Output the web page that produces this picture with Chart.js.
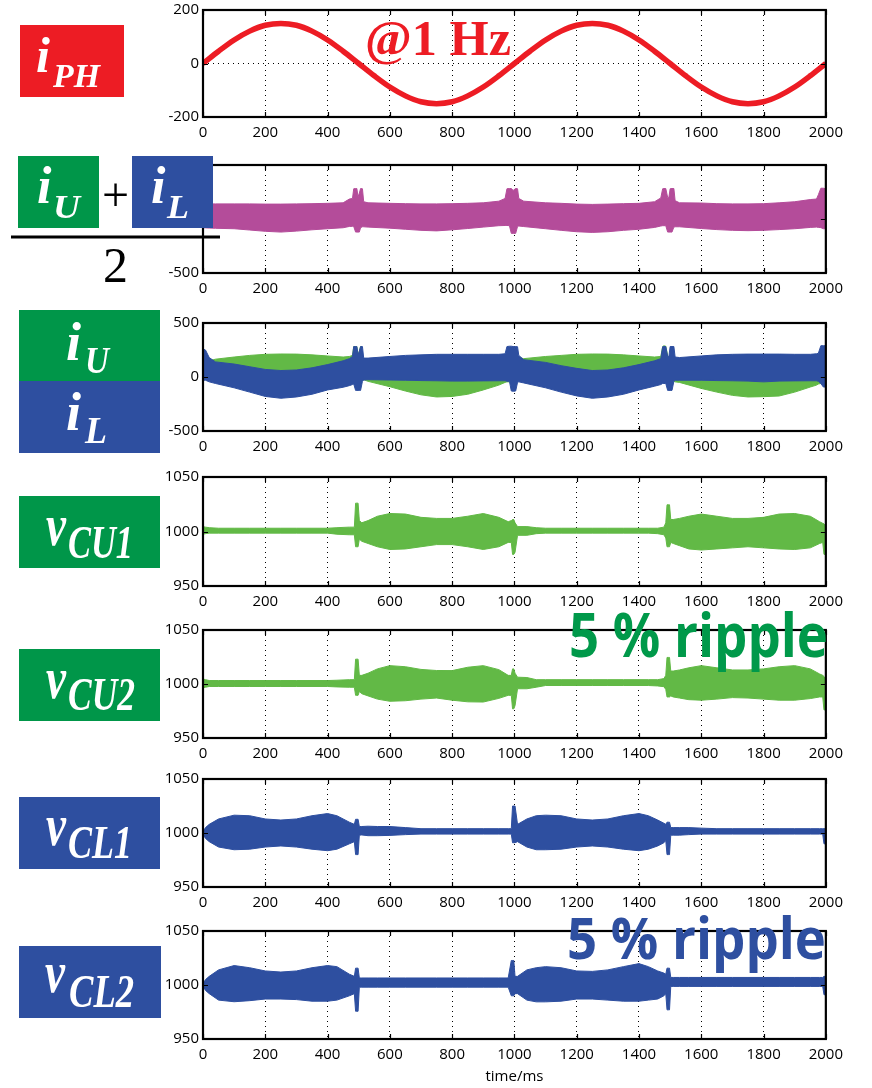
<!DOCTYPE html>
<html>
<head>
<meta charset="utf-8">
<script src="https://cdn.jsdelivr.net/npm/chart.js@4.4.1/dist/chart.umd.min.js"></script>
<style>
  html, body { margin: 0; padding: 0; background: #fff; }
  body { width: 872px; height: 1088px; position: relative; overflow: hidden; }
  canvas.panel { position: absolute; left: 150px; z-index: 1; }
  #labels { position: absolute; left: 0; top: 0; z-index: 2; pointer-events: none; }
  .sym { font-family: "Liberation Serif", "Times New Roman", serif; font-style: italic; font-weight: bold; fill: #fff; }
  .sub { font-family: "Liberation Serif", "Times New Roman", serif; font-style: italic; font-weight: bold; fill: #fff; }
  .ripple { font-family: "Open Sans", sans-serif; font-weight: bold; }
</style>
</head>
<body>

<canvas class="panel" id="p0"></canvas>
<canvas class="panel" id="p1"></canvas>
<canvas class="panel" id="p2"></canvas>
<canvas class="panel" id="p3"></canvas>
<canvas class="panel" id="p4"></canvas>
<canvas class="panel" id="p5"></canvas>
<canvas class="panel" id="p6"></canvas>

<svg id="labels" width="872" height="1088" xmlns="http://www.w3.org/2000/svg">
  <!-- i_PH -->
  <rect x="20" y="25" width="104" height="72" fill="#ed1c24"/>
  <text class="sym" x="36" y="72" font-size="50">i</text>
  <text class="sub" x="53" y="87" font-size="33" textLength="47" lengthAdjust="spacingAndGlyphs">PH</text>

  <!-- (i_U + i_L) / 2 -->
  <rect x="18" y="156" width="81" height="72" fill="#009649"/>
  <text class="sym" x="37" y="203" font-size="52">i</text>
  <text class="sub" x="53" y="218" font-size="34" textLength="27" lengthAdjust="spacingAndGlyphs">U</text>
  <text x="115.5" y="211" font-size="48" text-anchor="middle" font-family="Liberation Serif, serif" fill="#000">+</text>
  <rect x="132" y="156" width="81" height="72" fill="#2e4fa0"/>
  <text class="sym" x="151" y="203" font-size="52">i</text>
  <text class="sub" x="167" y="218" font-size="34" textLength="22" lengthAdjust="spacingAndGlyphs">L</text>
  <rect x="11" y="235.5" width="209" height="3" fill="#000"/>
  <text x="115.5" y="282" font-size="50" text-anchor="middle" font-family="Liberation Serif, serif" fill="#000">2</text>

  <!-- i_U / i_L -->
  <rect x="19" y="310" width="141" height="71" fill="#009649"/>
  <rect x="19" y="381" width="141" height="72" fill="#2e4fa0"/>
  <text class="sym" x="66" y="360" font-size="54">i</text>
  <text class="sub" x="85" y="373" font-size="38" textLength="24" lengthAdjust="spacingAndGlyphs">U</text>
  <text class="sym" x="66" y="430" font-size="54">i</text>
  <text class="sub" x="85" y="443" font-size="38" textLength="22" lengthAdjust="spacingAndGlyphs">L</text>

  <!-- capacitor voltages -->
  <rect x="19" y="496" width="141" height="72" fill="#009649"/>
  <text class="sym" x="46" y="545" font-size="60" textLength="20" lengthAdjust="spacingAndGlyphs">v</text>
  <text class="sub" x="68" y="558" font-size="46" textLength="65" lengthAdjust="spacingAndGlyphs">CU1</text>

  <rect x="19" y="649" width="141" height="72" fill="#009649"/>
  <text class="sym" x="46" y="698" font-size="60" textLength="20" lengthAdjust="spacingAndGlyphs">v</text>
  <text class="sub" x="68" y="710" font-size="46" textLength="67" lengthAdjust="spacingAndGlyphs">CU2</text>

  <rect x="19" y="797" width="141" height="72" fill="#2e4fa0"/>
  <text class="sym" x="46" y="845" font-size="60" textLength="20" lengthAdjust="spacingAndGlyphs">v</text>
  <text class="sub" x="68" y="858" font-size="46" textLength="64" lengthAdjust="spacingAndGlyphs">CL1</text>

  <rect x="19" y="946" width="142" height="72" fill="#2e4fa0"/>
  <text class="sym" x="45" y="992" font-size="60" textLength="20" lengthAdjust="spacingAndGlyphs">v</text>
  <text class="sub" x="69" y="1007" font-size="46" textLength="65" lengthAdjust="spacingAndGlyphs">CL2</text>

  <!-- annotations -->
  <text x="365" y="55" font-size="50" font-weight="bold" font-family="Liberation Serif, serif" fill="#ed1c24" textLength="146" lengthAdjust="spacingAndGlyphs">@1 Hz</text>
  <text class="ripple" x="569" y="657" font-size="60" fill="#00994a" textLength="259" lengthAdjust="spacingAndGlyphs">5 % ripple</text>
  <text class="ripple" x="567" y="959" font-size="58" fill="#2e4fa0" textLength="259" lengthAdjust="spacingAndGlyphs">5 % ripple</text>
</svg>

<script>
// ---------- phase current i_PH (A), sampled every 50 ms ----------
const tPhase = [0, 50, 100, 150, 200, 250, 300, 350, 400, 450, 500, 550, 600, 650, 700, 750, 800, 850, 900, 950,
                1000, 1050, 1100, 1150, 1200, 1250, 1300, 1350, 1400, 1450, 1500, 1550, 1600, 1650, 1700, 1750,
                1800, 1850, 1900, 1950, 2000];
const iPH = [0, 46, 88, 121, 143, 150, 143, 121, 88, 46, 0, -46, -88, -121, -143, -150, -143, -121, -88, -46,
             0, 46, 88, 121, 143, 150, 143, 121, 88, 46, 0, -46, -88, -121, -143, -150, -143, -121, -88, -46, 0];

// ---------- arm currents (A): envelope of the switching ripple ----------
const tArm = [
  0, 8, 20, 40, 100, 150, 200, 250, 300, 350, 400, 450,
  470, 480, 484, 490, 494, 498, 502, 506, 512, 516, 530,
  600, 650, 700, 750, 800, 850, 900, 950,
  970, 976, 984, 990, 996, 1004, 1010, 1014, 1030,
  1100, 1150, 1200, 1250, 1300, 1350, 1400, 1450,
  1470, 1476, 1480, 1486, 1492, 1496, 1500, 1506, 1512, 1516, 1530,
  1600, 1650, 1700, 1750, 1800, 1850, 1900, 1950,
  1970, 1976, 1984, 1992, 2000
];
// (i_U + i_L) / 2
const iAvgMax = [
  145, 140, 140, 140, 140, 140, 138, 138, 140, 142, 145, 150,
  185, 190, 280, 282, 282, 205, 240, 282, 280, 160, 150,
  145, 142, 140, 140, 142, 145, 150, 165,
  190, 280, 282, 282, 265, 282, 280, 190, 165,
  150, 145, 138, 135, 138, 142, 145, 160,
  195, 280, 282, 282, 200, 200, 280, 282, 282, 170, 150,
  148, 142, 140, 140, 142, 150, 160, 180,
  185, 225, 285, 285, 280
];
const iAvgMin = [
  -81, -82, -84, -86, -90, -102, -114, -121, -112, -100, -90, -81,
  -69, -68, -70, -121, -121, -121, -121, -80, -72, -72, -75,
  -85, -95, -105, -110, -100, -88, -75, -62,
  -60, -60, -62, -133, -133, -133, -70, -65, -70,
  -90, -105, -118, -124, -118, -105, -95, -78,
  -65, -62, -62, -62, -121, -121, -121, -121, -75, -72, -72,
  -88, -98, -105, -108, -105, -98, -90, -78,
  -75, -78, -80, -90, -90
];
// i_L (lower arm)
const iLMax = [
  260, 250, 180, 140, 120, 95, 70, 60, 65, 85, 115, 150,
  170, 190, 282, 282, 282, 205, 240, 282, 282, 175, 175,
  190, 200, 205, 210, 210, 210, 210, 210,
  215, 282, 285, 285, 282, 282, 280, 200, 160,
  135, 105, 80, 60, 65, 85, 115, 150,
  170, 280, 282, 282, 190, 190, 282, 282, 282, 185, 180,
  195, 205, 210, 212, 212, 212, 210, 210,
  215, 220, 290, 290, 290
];
const iLMin = [
  -30, -30, -45, -60, -100, -140, -180, -197, -185, -160, -120, -95,
  -80, -70, -65, -124, -124, -124, -124, -124, -40, -28, -25,
  -28, -30, -33, -35, -38, -38, -36, -35,
  -35, -40, -40, -130, -132, -130, -50, -45, -55,
  -100, -140, -175, -197, -185, -160, -120, -85,
  -70, -60, -60, -60, -124, -124, -124, -124, -40, -30, -30,
  -30, -33, -35, -38, -45, -38, -36, -35,
  -35, -40, -60, -93, -93
];
// i_U (upper arm)
const iUMax = [
  100, 120, 150, 165, 185, 200, 210, 213, 212, 205, 195, 185,
  190, 200, 282, 282, 282, 200, 240, 282, 150, 60, 50,
  60, 60, 60, 60, 60, 60, 60, 60,
  100, 200, 200, 200, 200, 200, 190, 180, 170,
  190, 200, 210, 213, 212, 205, 195, 185,
  190, 282, 289, 285, 200, 150, 100, 60, 60, 60, 60,
  60, 60, 60, 60, 60, 60, 60, 60,
  60, 60, 60, 60, 60
];
const iUMin = [
  0, 0, 0, 0, 0, 0, 0, 0, 0, 0, 0, 0,
  0, 0, 0, 0, 0, 0, 0, 0, -30, -25, -40,
  -90, -130, -165, -185, -180, -160, -120, -75,
  -50, -45, -45, -40, -40, -40, 0, 0, 0,
  0, 0, 0, 0, 0, 0, 0, 0,
  0, 0, 0, 0, 0, 0, 0, -30, -40, -45, -50,
  -106, -140, -170, -185, -182, -176, -140, -93,
  -75, -65, -60, -40, -40
];

// ---------- capacitor voltages (V): ripple envelope ----------
const tCap = [
  0, 8, 20, 50, 100, 150, 200, 250, 300, 350, 400, 430, 470,
  486, 490, 494, 498, 502, 510,
  530, 560, 600, 650, 700, 750, 800, 850, 900, 950,
  980, 990, 994, 998, 1002, 1010,
  1040, 1070, 1100, 1150, 1200, 1250, 1300, 1350, 1400, 1430, 1460, 1480,
  1486, 1490, 1494, 1498, 1502, 1510,
  1530, 1560, 1600, 1650, 1700, 1750, 1800, 1850, 1900, 1950,
  1980, 1990, 1994, 1998, 2000
];
const vCU1Max = [
  1004.5, 1004, 1003.5, 1003, 1003, 1003, 1003, 1003, 1003, 1003, 1003, 1003.5, 1004,
  1004, 1026, 1026, 1026, 1010, 1008,
  1010, 1014, 1016.5, 1016, 1013, 1012, 1012, 1014, 1016.5, 1013,
  1009, 1010, 1011, 1011, 1008, 1004.5,
  1004.5, 1003.5, 1003, 1003, 1003, 1003, 1003, 1003, 1003, 1003, 1003, 1004,
  1008, 1024.5, 1024.5, 1024.5, 1011, 1011,
  1012, 1014, 1016, 1014, 1012, 1012, 1013, 1016, 1016.5, 1014,
  1009, 1007.5, 1007, 1005, 1005
];
const vCU1Min = [
  997.5, 998, 998.5, 998.5, 998.5, 998.5, 998.5, 998.5, 998.5, 998.5, 998.5, 997.5, 997,
  997, 986, 986, 986, 993, 991,
  989, 986, 983.5, 984, 986, 988, 988, 986, 983.5, 986,
  990, 990, 979, 979, 981, 996.5,
  996.5, 998, 998.5, 998.5, 998.5, 998.5, 998.5, 998.5, 998.5, 998.5, 998, 997,
  994, 986, 986, 986, 990, 989,
  987, 984, 983, 984, 985, 986, 985, 984, 983.5, 985,
  989, 990, 979, 979, 979
];
const vCU2Max = [
  1004.6, 1004, 1003.2, 1003.2, 1003.2, 1003.2, 1003.2, 1003.2, 1003.2, 1003.2, 1003.2, 1003.5, 1004,
  1004, 1023, 1023, 1023, 1008, 1008,
  1010, 1014, 1017, 1016, 1013.5, 1012.5, 1012.4, 1015.5, 1017, 1013.3,
  1008, 1008, 1014, 1014, 1010, 1006.3,
  1006, 1004, 1004, 1004, 1004, 1004, 1004, 1004, 1004, 1004, 1004, 1005,
  1008, 1024.6, 1024.6, 1024.6, 1012, 1012,
  1013, 1015, 1017, 1015, 1013, 1013, 1014, 1016, 1017, 1014,
  1009.3, 1008, 1007, 1005, 1005
];
const vCU2Min = [
  996.6, 997, 997.7, 997.7, 997.7, 997.7, 997.7, 997.7, 997.7, 997.7, 997.7, 997.3, 997,
  997, 989.5, 989.5, 989.5, 993, 991,
  989, 986, 984, 984.5, 986, 987, 985, 983.5, 983.3, 986.7,
  989.5, 989.5, 977, 977, 980, 995.6,
  995.6, 997, 998.6, 998.6, 998.6, 998.6, 998.6, 998.6, 998.6, 998.6, 998.2, 997.5,
  995, 988, 988, 988, 989, 988,
  987, 985.5, 985, 986, 987.4, 987, 986, 985, 985, 986.5,
  988, 988, 976, 976, 976
];
const vCL1Max = [
  1001, 1005, 1008, 1013, 1016.5, 1016, 1013, 1012, 1013, 1016, 1018, 1016, 1010,
  1008, 1012.7, 1012.7, 1012.7, 1006, 1006,
  1006.3, 1006, 1006, 1005, 1004, 1004, 1004, 1004, 1004, 1004,
  1004, 1004, 1025, 1025, 1025, 1008,
  1013, 1016, 1016.5, 1016, 1013, 1012, 1013, 1016, 1018, 1016, 1012, 1009,
  1008, 1010, 1010, 1010, 1005, 1005,
  1005, 1005, 1004.5, 1004, 1004, 1004, 1004, 1004, 1004, 1004,
  1004, 1004, 1004, 1004, 1004
];
const vCL1Min = [
  999, 995, 992, 987, 984.5, 985, 987, 988, 987, 985, 983.6, 985, 990,
  992, 980, 980, 980, 998, 998.2,
  997.5, 997.5, 997.8, 998.5, 999, 999, 999, 999, 999, 999,
  999, 999, 991, 991, 991, 992,
  987, 984.5, 984.5, 985, 987, 988, 987, 985, 983.6, 985, 988, 991,
  993, 980, 980, 980, 998, 998,
  998, 998.5, 999, 999, 999, 999, 999, 999, 999, 999,
  999, 999, 990, 990, 990
];
const vCL2Max = [
  1001, 1005, 1008, 1014, 1018, 1016, 1013, 1012, 1013, 1016, 1018, 1017, 1010,
  1008, 1015.6, 1015.6, 1015.6, 1006.5, 1006.5,
  1006.5, 1006.5, 1006.5, 1006.5, 1006.5, 1006.5, 1006.5, 1006.5, 1006.5, 1006.5,
  1006.5, 1022.7, 1022.7, 1022.7, 1008, 1008,
  1014, 1016, 1017, 1016, 1013, 1012.6, 1014, 1017, 1019.8, 1017, 1013, 1011,
  1010, 1015.6, 1015.6, 1015.6, 1007, 1007,
  1007, 1007, 1007, 1007, 1007, 1007, 1007, 1007, 1007, 1007,
  1007, 1007, 1008, 1008, 1008
];
const vCL2Min = [
  999, 995, 992, 986, 984.5, 985.5, 987, 987, 986.5, 985, 985, 986, 990,
  992, 975.7, 975.7, 975.7, 998, 998,
  998, 998, 998, 998, 998, 998, 998, 998, 998, 998,
  998, 990, 990, 990, 992, 992,
  986, 984.4, 984.4, 985, 987, 987, 986, 985, 985, 986, 987, 990,
  992, 977, 977, 977, 998.7, 998.7,
  998.7, 998.7, 998.7, 998.7, 998.7, 998.7, 998.7, 998.7, 998.7, 998.7,
  998.7, 998.7, 991, 991, 991
];

// axis tick values
const xTicks = [0, 200, 400, 600, 800, 1000, 1200, 1400, 1600, 1800, 2000];
const yTicksPhase = [-200, 0, 200];
const yTicksArm = [-500, 0, 500];
const yTicksCap = [950, 1000, 1050];

// colours
const RED = '#ed1c24', MAGENTA = '#b44c9a', LGREEN = '#62b946', BLUE = '#2e4fa0';

const pts = (t, v) => t.map((x, i) => ({ x, y: v[i] }));

function band(t, hi, lo, color) {
  const common = { borderColor: color, backgroundColor: color, borderWidth: 1, pointRadius: 0, tension: 0 };
  return [
    Object.assign({ data: pts(t, hi), fill: false }, common),
    Object.assign({ data: pts(t, lo), fill: '-1' }, common)
  ];
}

// frame box with inward tick marks
const framePlugin = {
  id: 'frame',
  afterDatasetsDraw(chart) {
    const { ctx, chartArea: a, scales: { x, y } } = chart;
    ctx.save();
    ctx.strokeStyle = '#000';
    ctx.lineWidth = 1.2;
    ctx.beginPath();
    x.ticks.forEach(t => {
      const px = Math.round(x.getPixelForValue(t.value)) + 0.5;
      ctx.moveTo(px, a.top); ctx.lineTo(px, a.top + 5);
      ctx.moveTo(px, a.bottom); ctx.lineTo(px, a.bottom - 5);
    });
    y.ticks.forEach(t => {
      const py = Math.round(y.getPixelForValue(t.value)) + 0.5;
      ctx.moveTo(a.left, py); ctx.lineTo(a.left + 5, py);
      ctx.moveTo(a.right, py); ctx.lineTo(a.right - 5, py);
    });
    ctx.stroke();
    ctx.lineWidth = 2.2;
    ctx.strokeRect(a.left, a.top, a.right - a.left, a.bottom - a.top);
    ctx.restore();
  }
};

const tickFont = { family: 'Open Sans', size: 15 };

function makePanel(id, top, h, yTicks, datasets, withTitle) {
  const padTop = 12;
  const axisH = withTitle ? 50 : 30;
  const cv = document.getElementById(id);
  cv.width = 700;
  cv.height = padTop + h + axisH;
  cv.style.top = (top - padTop) + 'px';
  new Chart(cv, {
    type: 'line',
    data: { datasets },
    options: {
      responsive: false,
      animation: false,
      events: [],
      layout: { padding: { left: 0, right: 16, top: padTop, bottom: 0 } },
      plugins: { legend: { display: false }, tooltip: { enabled: false } },
      scales: {
        x: {
          type: 'linear', min: 0, max: 2000,
          afterBuildTicks: s => { s.ticks = xTicks.map(v => ({ value: v })); },
          afterFit: s => { s.height = axisH; },
          ticks: { font: tickFont, color: '#000', padding: 7, maxRotation: 0, callback: v => String(v) },
          grid: { color: '#000', lineWidth: 1, drawTicks: false },
          border: { display: false, dash: [1, 4] },
          title: withTitle ? { display: true, text: 'time/ms', color: '#000',
                               font: { family: 'Open Sans', size: 15 }, padding: { top: 2, bottom: 3 } }
                           : { display: false }
        },
        y: {
          type: 'linear', min: yTicks[0], max: yTicks[yTicks.length - 1],
          afterBuildTicks: s => { s.ticks = yTicks.map(v => ({ value: v })); },
          afterFit: s => { s.width = 53; },
          ticks: { font: tickFont, color: '#000', padding: 4, callback: v => String(v) },
          grid: { color: '#000', lineWidth: 1, drawTicks: false },
          border: { display: false, dash: [1, 4] }
        }
      }
    },
    plugins: [framePlugin]
  });
}

makePanel('p0', 9, 108, yTicksPhase, [{
  data: pts(tPhase, iPH), borderColor: RED, borderWidth: 5.5, pointRadius: 0,
  cubicInterpolationMode: 'monotone', fill: false
}]);
makePanel('p1', 164, 109, yTicksArm, band(tArm, iAvgMax, iAvgMin, MAGENTA));
makePanel('p2', 322, 109, yTicksArm,
  band(tArm, iLMax, iLMin, BLUE).concat(band(tArm, iUMax, iUMin, LGREEN)));
makePanel('p3', 476, 110, yTicksCap, band(tCap, vCU1Max, vCU1Min, LGREEN));
makePanel('p4', 629, 109, yTicksCap, band(tCap, vCU2Max, vCU2Min, LGREEN));
makePanel('p5', 778, 109, yTicksCap, band(tCap, vCL1Max, vCL1Min, BLUE));
makePanel('p6', 930, 109, yTicksCap, band(tCap, vCL2Max, vCL2Min, BLUE), true);
</script>
</body>
</html>
